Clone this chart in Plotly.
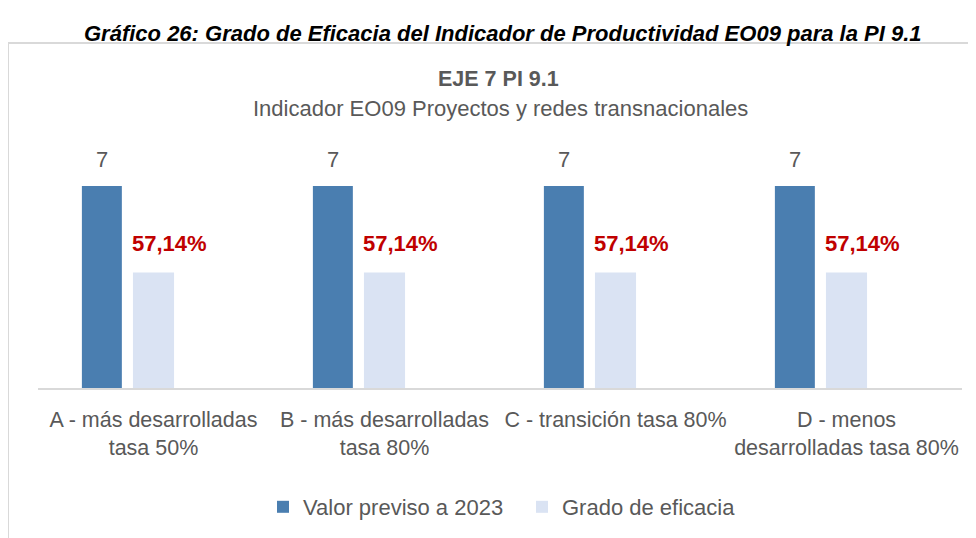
import plotly.graph_objects as go

categories = ["A - más desarrolladas<br>tasa 50%", "B - más desarrolladas<br>tasa 80%",
              "C - transición tasa 80%", "D - menos<br>desarrolladas tasa 80%"]
valor_previsto = [7, 7, 7, 7]
valor_ejecutado = [4, 4, 4, 4]          # bar height of "Grado de eficacia" (4 of 7)
grado_eficacia = [57.14, 57.14, 57.14, 57.14]  # % shown as label
series_names = ["Valor previso a 2023", "Grado de eficacia"]

FONT = "Liberation Sans, Arial, sans-serif"
GRAY = "#595959"
BLUE = "#4a7eb0"
LIGHT = "#dae3f3"
RED = "#c00000"

W, H = 976, 538
OFF = 8  # page offset of the figure inside the browser window
ML, MR, MT, MB = 30, 22, 149, 158
PW, PH = W - ML - MR, H - MT - MB
YMAX = 8


def px(x):
    return (x - OFF - ML) / PW


def py(y):
    return (H - MB - (y - OFF)) / PH


fig = go.Figure()
fig.add_trace(go.Bar(x=categories, y=valor_previsto, name=series_names[0],
                     marker=dict(color=BLUE, line=dict(width=0)),
                     width=0.173, offset=-0.31))
fig.add_trace(go.Bar(x=categories, y=valor_ejecutado, name=series_names[1],
                     marker=dict(color=LIGHT, line=dict(width=0)),
                     width=0.178, offset=-0.089))

ann = []
for c, v in zip(categories, valor_previsto):
    ann.append(dict(x=c, y=v, text=str(v), showarrow=False, xshift=-51.5, yshift=26,
                    xanchor="center", yanchor="middle",
                    font=dict(family=FONT, size=22, color=GRAY)))
for c, v, e in zip(categories, valor_ejecutado, grado_eficacia):
    ann.append(dict(x=c, y=v, text=f"{e:.2f}%".replace(".", ","), showarrow=False,
                    xshift=16, yshift=29, xanchor="center", yanchor="middle",
                    font=dict(family=FONT, size=22, color=RED, weight="bold")))

ann.append(dict(xref="paper", yref="paper", x=px(503), y=py(33), xanchor="center", yanchor="middle",
                text="<b><i>Gráfico 26: Grado de Eficacia del Indicador de Productividad EO09 para la PI 9.1</i></b>",
                showarrow=False, font=dict(family=FONT, size=22, color="#000000")))
ann.append(dict(xref="paper", yref="paper", x=px(498.5), y=py(79), xanchor="center", yanchor="middle",
                text="<b>EJE 7 PI 9.1</b>",
                showarrow=False, font=dict(family=FONT, size=21.5, color=GRAY)))
ann.append(dict(xref="paper", yref="paper", x=px(500), y=py(108), xanchor="center", yanchor="middle",
                text="Indicador EO09 Proyectos y redes transnacionales",
                showarrow=False, font=dict(family=FONT, size=22, color=GRAY)))

shapes = [dict(type="rect", xref="paper", yref="paper", x0=px(8), x1=px(1000), y0=py(570), y1=py(43),
               line=dict(color="#d9d9d9", width=2), fillcolor="rgba(0,0,0,0)", layer="below")]

fig.update_layout(
    width=W, height=H,
    margin=dict(l=ML, r=MR, t=MT, b=MB, pad=0, autoexpand=False),
    paper_bgcolor="white", plot_bgcolor="white",
    barmode="group",
    showlegend=True,
    legend=dict(orientation="h", x=px(263), y=py(507), xanchor="left", yanchor="middle",
                font=dict(family=FONT, size=22, color=GRAY), itemwidth=30, entrywidth=214,
                traceorder="normal", itemclick=False),
    xaxis=dict(showgrid=False, showline=True, linecolor="#d9d9d9", linewidth=2, automargin=False,
               ticks="", tickangle=0, tickfont=dict(family=FONT, size=21.5, color=GRAY),
               ticklabelstandoff=11),
    yaxis=dict(range=[0, YMAX], visible=False, showgrid=False, automargin=False),
    annotations=ann,
    shapes=shapes,
    font=dict(family=FONT, color=GRAY),
)

fig.write_html("out.html")
